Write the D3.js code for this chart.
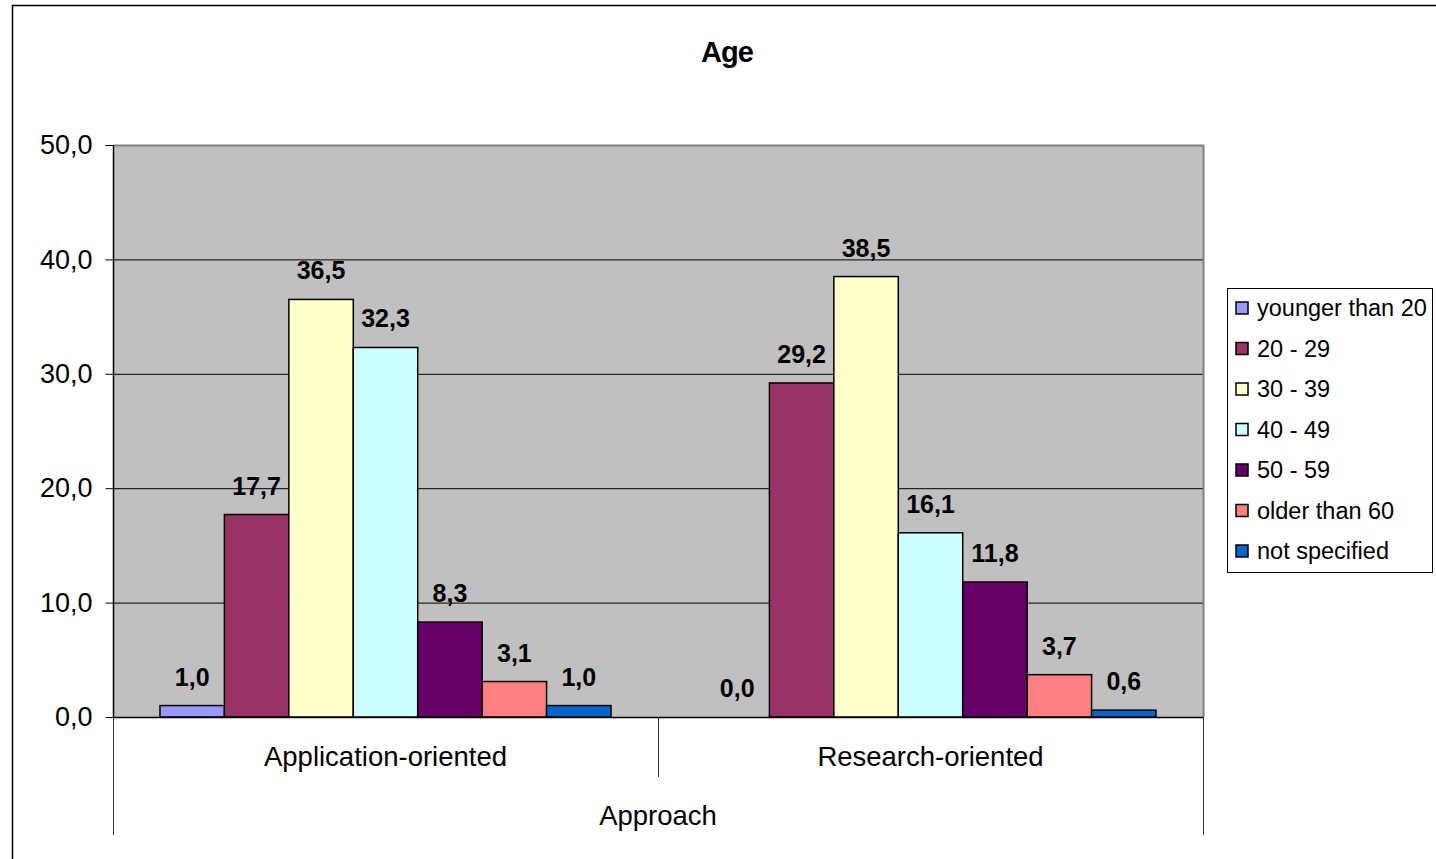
<!DOCTYPE html>
<html>
  <head>
    <meta charset="utf-8">
    <title>Age</title>
    <style>
      body {
        margin: 0;
        background: #fff;
        font-family: "Liberation Sans", Arial, sans-serif;
      }
      svg { display: block; }
    </style>
  </head>
  <body>
    <svg id="chart" width="1436" height="859"></svg>
    <script src="https://cdn.jsdelivr.net/npm/d3@7"></script>
    <script>
    var categories = ["Application-oriented", "Research-oriented"];
    var seriesNames = ["younger than 20", "20 - 29", "30 - 39", "40 - 49", "50 - 59", "older than 60", "not specified"];
    var seriesColors = ["#9999ff", "#993366", "#ffffcc", "#ccffff", "#660066", "#ff8080", "#0066cc"];
    var applicationValues = [1.0, 17.7, 36.5, 32.3, 8.3, 3.1, 1.0];
    var researchValues = [0.0, 29.2, 38.5, 16.1, 11.8, 3.7, 0.6];
    var yTicks = [0, 10, 20, 30, 40, 50];
    var axisTitle = "Approach";
    var chartTitle = "Age";

    var valuesByCategory = [applicationValues, researchValues];

    var svg = d3.select("#chart");
    var plot = { left: 113, right: 1203, top: 145, bottom: 717 };

    var locale = d3.formatLocale({ decimal: ",", thousands: ".", grouping: [3], currency: ["", ""] });
    var fmt = locale.format(".1f");

    // outer chart border (runs off the page on the right and bottom)
    svg.append("rect")
        .attr("x", 12.5).attr("y", 5.5)
        .attr("width", 1500).attr("height", 1000)
        .attr("fill", "none")
        .attr("stroke", "#000")
        .attr("stroke-width", 1.5);

    svg.append("text")
        .attr("x", 727).attr("y", 62)
        .attr("text-anchor", "middle")
        .style("font-size", "29px")
        .style("font-weight", "bold")
        .style("letter-spacing", "-1px")
        .text(chartTitle);

    var y = d3.scaleLinear().domain([0, 50]).range([plot.bottom, plot.top]);
    var x0 = d3.scaleBand().domain(categories).range([plot.left, plot.right]);
    var gap = x0.bandwidth() * 0.0862;
    var x1 = d3.scaleBand().domain(seriesNames).range([gap, x0.bandwidth() - gap]);

    // plot background
    svg.append("rect")
        .attr("x", plot.left).attr("y", plot.top)
        .attr("width", plot.right - plot.left)
        .attr("height", plot.bottom - plot.top)
        .attr("fill", "#c0c0c0");

    // gridlines
    svg.append("g")
        .selectAll("line")
        .data(yTicks.filter(function(d) { return d > 0 && d < 50; }))
        .join("line")
        .attr("x1", plot.left).attr("x2", plot.right)
        .attr("y1", function(d) { return y(d) + 0.5; })
        .attr("y2", function(d) { return y(d) + 0.5; })
        .attr("stroke", "#000")
        .attr("stroke-width", 1);

    // top and right border of plot area
    svg.append("path")
        .attr("d", "M" + plot.left + "," + (plot.top + 0.5) + "H" + (plot.right + 0.5) + "V" + plot.bottom)
        .attr("fill", "none")
        .attr("stroke", "#808080")
        .attr("stroke-width", 2);

    // bars
    var groups = svg.append("g")
        .selectAll("g")
        .data(categories)
        .join("g")
        .attr("transform", function(d) { return "translate(" + x0(d) + ",0)"; });

    groups.selectAll("rect")
        .data(function(d, i) {
            return valuesByCategory[i].map(function(v, j) { return { name: seriesNames[j], value: v, color: seriesColors[j] }; });
        })
        .join("rect")
        .filter(function(d) { return d.value > 0; })
        .attr("x", function(d) { return x1(d.name); })
        .attr("y", function(d) { return y(d.value); })
        .attr("width", x1.bandwidth())
        .attr("height", function(d) { return y(0) - y(d.value); })
        .attr("fill", function(d) { return d.color; })
        .attr("stroke", "#000")
        .attr("stroke-width", 1.5);

    groups.selectAll("text")
        .data(function(d, i) {
            return valuesByCategory[i].map(function(v, j) { return { name: seriesNames[j], value: v }; });
        })
        .join("text")
        .attr("x", function(d) { return x1(d.name) + x1.bandwidth() / 2; })
        .attr("y", function(d) { return y(d.value) - 20; })
        .attr("text-anchor", "middle")
        .style("font-size", "25px")
        .style("font-weight", "bold")
        .text(function(d) { return fmt(d.value); });

    // y axis
    var yAxis = d3.axisLeft(y)
        .tickValues(yTicks)
        .tickSize(8)
        .tickPadding(13)
        .tickFormat(fmt);

    var gy = svg.append("g")
        .attr("transform", "translate(" + (plot.left + 0.5) + ",0)")
        .call(yAxis);
    gy.select(".domain").attr("stroke", "#000").attr("stroke-width", 1.5).attr("d", "M0," + plot.top + "V" + plot.bottom);
    gy.selectAll(".tick line").attr("stroke", "#000");
    gy.selectAll(".tick text")
        .style("font-family", "'Liberation Sans', Arial, sans-serif")
        .style("font-size", "27px")
        .attr("fill", "#000");

    // x axis line
    svg.append("line")
        .attr("x1", plot.left).attr("x2", plot.right)
        .attr("y1", plot.bottom + 0.5).attr("y2", plot.bottom + 0.5)
        .attr("stroke", "#000")
        .attr("stroke-width", 1.5);

    // category separators: outer ones span both label rows
    var edges = [plot.left, plot.right];
    svg.append("g")
        .selectAll("line")
        .data(edges)
        .join("line")
        .attr("x1", function(d) { return d + 0.5; })
        .attr("x2", function(d) { return d + 0.5; })
        .attr("y1", plot.bottom).attr("y2", 835)
        .attr("stroke", "#333")
        .attr("stroke-width", 1);

    svg.append("g")
        .selectAll("line")
        .data(categories.slice(1))
        .join("line")
        .attr("x1", function(d) { return x0(d) + 0.5; })
        .attr("x2", function(d) { return x0(d) + 0.5; })
        .attr("y1", plot.bottom).attr("y2", 777)
        .attr("stroke", "#333")
        .attr("stroke-width", 1);

    svg.append("g")
        .selectAll("text")
        .data(categories)
        .join("text")
        .attr("x", function(d) { return x0(d) + x0.bandwidth() / 2; })
        .attr("y", 766)
        .attr("text-anchor", "middle")
        .style("font-size", "27.5px")
        .text(function(d) { return d; });

    svg.append("text")
        .attr("x", (plot.left + plot.right) / 2)
        .attr("y", 825)
        .attr("text-anchor", "middle")
        .style("font-size", "27.5px")
        .text(axisTitle);

    // legend
    var legend = svg.append("g").attr("transform", "translate(1227,288)");
    legend.append("rect")
        .attr("x", 0.5).attr("y", 0.5)
        .attr("width", 205).attr("height", 284)
        .attr("fill", "#fff")
        .attr("stroke", "#000")
        .attr("stroke-width", 1);

    var rowY = d3.scalePoint().domain(seriesNames).range([20, 263]);
    var items = legend.selectAll("g.item")
        .data(seriesNames)
        .join("g")
        .attr("class", "item")
        .attr("transform", function(d) { return "translate(0," + rowY(d) + ")"; });

    items.append("rect")
        .attr("x", 9).attr("y", -6)
        .attr("width", 12).attr("height", 12)
        .attr("fill", function(d, i) { return seriesColors[i]; })
        .attr("stroke", "#000")
        .attr("stroke-width", 1.5);

    items.append("text")
        .attr("x", 30).attr("y", 8)
        .style("font-size", "23.5px")
        .text(function(d) { return d; });
    </script>
  </body>
</html>
